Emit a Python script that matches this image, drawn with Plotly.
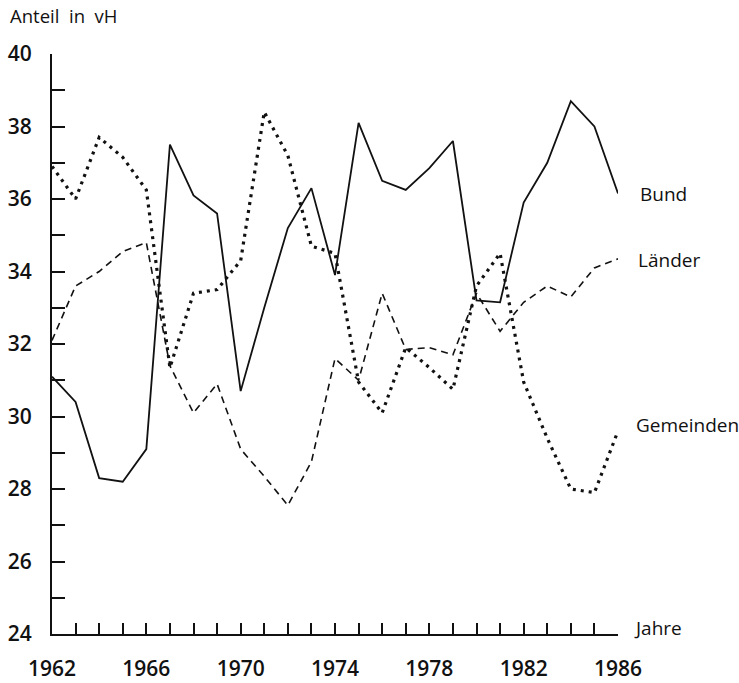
import plotly.graph_objects as go

years = list(range(1962, 1987))
bund = [31.1, 30.4, 28.3, 28.2, 29.1, 37.5, 36.1, 35.6, 30.7, 33.0, 35.2, 36.3, 33.9, 38.1,
        36.5, 36.25, 36.85, 37.6, 33.2, 33.15, 35.9, 37.0, 38.7, 38.0, 36.15]
laender = [32.1, 33.6, 34.0, 34.55, 34.8, 31.4, 30.1, 30.9, 29.1, 28.35, 27.55, 28.75, 31.6, 31.0,
           33.4, 31.85, 31.9, 31.7, 33.4, 32.35, 33.15, 33.6, 33.3, 34.1, 34.35]
gemeinden = [36.9, 36.0, 37.7, 37.15, 36.25, 31.35, 33.4, 33.5, 34.3, 38.4, 37.2, 34.7, 34.5, 30.95,
             30.1, 31.9, 31.35, 30.75, 33.6, 34.5, 30.95, 29.4, 28.0, 27.9, 29.6]
series_names = ["Bund", "Länder", "Gemeinden"]
x_tick_years = [1962, 1966, 1970, 1974, 1978, 1982, 1986]
y_tick_values = [24, 26, 28, 30, 32, 34, 36, 38, 40]

fig = go.Figure()
fig.add_trace(go.Scatter(x=years, y=bund, mode="lines", name="Bund",
                         line=dict(color="#111", width=1.8)))
fig.add_trace(go.Scatter(x=years, y=laender, mode="lines", name="Länder",
                         line=dict(color="#111", width=1.6, dash="7px,5px")))
fig.add_trace(go.Scatter(x=years, y=gemeinden, mode="lines", name="Gemeinden",
                         line=dict(color="#111", width=3.2, dash="3px,5px")))

tickfont = dict(size=21, family="Open Sans, sans-serif", weight=600, color="#111")
fig.update_layout(
    width=739, height=683, autosize=False,
    margin=dict(l=52, r=121, t=53.5, b=48.7),
    paper_bgcolor="white", plot_bgcolor="white",
    showlegend=False,
    font=dict(family="Open Sans, sans-serif", color="#111"),
)
fig.update_xaxes(
    range=[1962, 1986], tickvals=x_tick_years, ticktext=[str(y) for y in x_tick_years],
    ticks="inside", ticklen=11, tickwidth=1.6, tickcolor="#111",
    minor=dict(dtick=1, tick0=1962, ticks="inside", ticklen=11, tickwidth=1.6, tickcolor="#111"),
    showline=True, linecolor="#111", linewidth=2, showgrid=False, zeroline=False,
    tickfont=tickfont, ticklabelstandoff=15, automargin=False,
)
fig.update_yaxes(
    range=[24, 40], tickvals=y_tick_values, ticktext=[str(v) for v in y_tick_values],
    ticks="inside", ticklen=13, tickwidth=1.6, tickcolor="#111",
    minor=dict(dtick=1, tick0=24, ticks="inside", ticklen=13, tickwidth=1.6, tickcolor="#111"),
    showline=True, linecolor="#111", linewidth=2, showgrid=False, zeroline=False,
    tickfont=tickfont, ticklabelstandoff=14, automargin=False,
)

label_pos = {"Bund": (36.15, 20), "Länder": (34.31, 18), "Gemeinden": (29.77, 16)}
for nm in series_names:
    yv, xs = label_pos[nm]
    fig.add_annotation(x=1986, y=yv, xref="x", yref="y", text=nm, showarrow=False,
                       xanchor="left", yanchor="middle", xshift=xs, font=dict(size=19))
fig.add_annotation(x=1986, y=24, xref="x", yref="y", text="Jahre", showarrow=False,
                   xanchor="left", yanchor="middle", xshift=14, yshift=6, font=dict(size=19))
fig.add_annotation(xref="paper", yref="paper", x=-44/566, y=1 + 38.5/580.8,
                   text="Anteil\u00a0\u00a0in\u00a0\u00a0vH", showarrow=False,
                   xanchor="left", yanchor="middle", font=dict(size=18.5))

fig.write_html("out.html", config={"displayModeBar": False},
               post_script="document.body.style.margin='0';document.body.style.overflow='hidden';")
